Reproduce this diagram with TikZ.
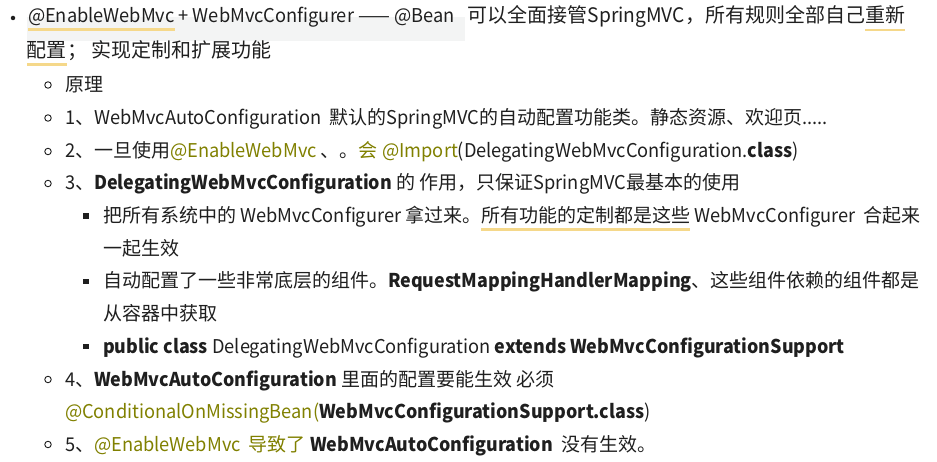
\documentclass[tikz,border=0pt]{standalone}
\usepackage{fontspec}
\setmainfont{Noto Sans CJK SC}[UprightFeatures={FakeStretch=0.96}, BoldFeatures={FakeStretch=0.94}]
\newfontfamily\latfont{Noto Sans CJK SC}[UprightFeatures={FakeStretch=0.96}, BoldFeatures={FakeStretch=0.94}]
\newfontfamily\cjkfont{Noto Sans CJK SC}
% automatic switch between Latin and CJK fonts
\XeTeXinterchartokenstate=1
\newXeTeXintercharclass\CJKcls
\newcount\cjkcnt
\def\setcjkrange#1#2{\cjkcnt=#1 \loop \XeTeXcharclass\cjkcnt=\CJKcls \ifnum\cjkcnt<#2 \advance\cjkcnt by 1 \repeat}
\setcjkrange{"3000}{"303F}
\setcjkrange{"4E00}{"9FFF}
\setcjkrange{"FF00}{"FFEF}
\XeTeXcharclass"2014=\CJKcls
\XeTeXinterchartoks 0 \CJKcls = {\cjkfont}
\XeTeXinterchartoks 4095 \CJKcls = {\cjkfont}
\XeTeXinterchartoks \CJKcls 0 = {\latfont}
\XeTeXinterchartoks 4095 0 = {\latfont}
\usetikzlibrary{calc}
\definecolor{txt}{HTML}{1F1F1F}
\definecolor{code}{HTML}{808000}
\definecolor{hl}{HTML}{F5D88A}
\definecolor{codebg}{HTML}{F3F4F4}
\pgfdeclarelayer{bg}
\pgfsetlayers{bg,main}
\begin{document}
\begin{tikzpicture}[x=1pt,y=-1pt,
  every node/.style={inner sep=0pt, outer sep=0pt, anchor=base west, text=txt,
    font=\fontsize{19}{23}\selectfont},
  big/.style={font=\fontsize{20}{24}\selectfont},
  hline/.style={draw=hl, line width=2.6pt},
  dotA/.style={circle, fill=txt, minimum size=4.5pt, anchor=center},
  dotB/.style={circle, draw=txt, line width=0.9pt, minimum size=6.5pt, anchor=center},
  dotC/.style={rectangle, fill=txt, minimum size=5.5pt, anchor=center},
  olv/.style={text=code}]
\useasboundingbox (0,0) rectangle (937,462);
% ---------- line 1
\node[dotA] (b1) at (13,18) {};
\node (l1a) at (28,23) {@EnableWebMvc};
\node (l1b) at (l1a.base east) {\ + WebMvcConfigurer ——\ @Bean};
\node[big] (l1c) at ([xshift=13pt]l1b.base east) {可以全面接管SpringMVC，所有规则全部自己};
\node[big] (l1d) at (l1c.base east) {重新};
\begin{pgfonlayer}{bg}
\fill[codebg] ([shift={(-1pt,-18pt)}]l1a.base west) rectangle ([shift={(10pt,6pt)}]l1b.base east);
\end{pgfonlayer}
\draw[hline] ([yshift=-6.5pt]l1a.base west) -- ([yshift=-6.5pt]l1a.base east);
\draw[hline] ([yshift=-7pt]l1d.base west) -- ([yshift=-7pt]l1d.base east);
% ---------- line 2
\node[big] (l2a) at (27,58) {配置};
\node[big] (l2b) at (l2a.base east) {；\ 实现定制和扩展功能};
\draw[hline] ([yshift=-6.5pt]l2a.base west) -- ([yshift=-6.5pt]l2a.base east);
% ---------- line 3
\node[dotB] (b3) at (48,85) {};
\node (l3) at (65,91.5) {原理};
% ---------- line 4
\node[dotB] (b4) at (48,118) {};
\node (l4) at (65,124.5) {1、WebMvcAutoConfiguration\ \ 默认的SpringMVC的自动配置功能类。静态资源、欢迎页.....};
% ---------- line 5
\node[dotB] (b5) at (48,151.5) {};
\node (l5a) at (65,158) {2、一旦使用\ };
\node[olv] (l5b) at (l5a.base east) {@EnableWebMvc};
\node (l5c) at (l5b.base east) {\ 、。};
\node[olv] (l5d) at (l5c.base east) {会\ @Import};
\node (l5e) at (l5d.base east) {(DelegatingWebMvcConfiguration.\textbf{class})};
% ---------- line 6
\node[dotB] (b6) at (48,183.5) {};
\node (l6) at (65,190) {3、\textbf{DelegatingWebMvcConfiguration}\ 的\ 作用，只保证SpringMVC最基本的使用};
% ---------- line 7
\node[dotC] (b7) at (86,216) {};
\node (l7a) at (103,222.5) {把所有系统中的\ WebMvcConfigurer\ 拿过来。};
\node (l7b) at (l7a.base east) {所有功能的定制都是这些};
\node (l7c) at (l7b.base east) {\ WebMvcConfigurer\ \ 合起来};
\draw[hline] ([yshift=-7pt]l7b.base west) -- ([yshift=-7pt]l7b.base east);
% ---------- line 8
\node (l8) at (103,255.5) {一起生效};
% ---------- line 9
\node[dotC] (b9) at (86,281.5) {};
\node (l9) at (103,288) {自动配置了一些非常底层的组件。\textbf{RequestMappingHandlerMapping}、这些组件依赖的组件都是};
% ---------- line 10
\node (l10) at (103,320.5) {从容器中获取};
% ---------- line 11
\node[dotC] (b11) at (86,346.5) {};
\node (l11) at (103,353) {\textbf{public class}\ DelegatingWebMvcConfiguration\ \textbf{extends WebMvcConfigurationSupport}};
% ---------- line 12
\node[dotB] (b12) at (48,379.5) {};
\node (l12) at (65,386) {4、\textbf{WebMvcAutoConfiguration}\ 里面的配置要能生效\ 必须};
% ---------- line 13
\node[olv] (l13a) at (65,418.5) {@ConditionalOnMissingBean(};
\node (l13b) at (l13a.base east) {\textbf{WebMvcConfigurationSupport.class})};
% ---------- line 14
\node[dotB] (b14) at (48,444.5) {};
\node (l14a) at (65,451) {5、};
\node[olv] (l14b) at (l14a.base east) {@EnableWebMvc\ \ 导致了};
\node (l14c) at (l14b.base east) {\ \textbf{WebMvcAutoConfiguration}\ \ 没有生效。};
\end{tikzpicture}
\end{document}
